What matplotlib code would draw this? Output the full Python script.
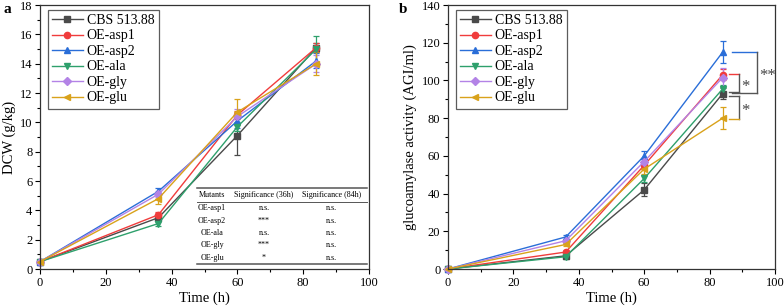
import matplotlib
matplotlib.use("Agg")
import matplotlib.pyplot as plt
from matplotlib.ticker import MultipleLocator
from matplotlib.lines import Line2D

plt.rcParams['font.family'] = ['Liberation Serif', 'DejaVu Serif']

time = [0, 36, 60, 84]
strains = ["CBS 513.88", "OE-asp1", "OE-asp2", "OE-ala", "OE-gly", "OE-glu"]
colors = ["#4a4a4a", "#f03c3c", "#2a6ed8", "#2ea06c", "#b383e6", "#d9a21b"]
markers = ["s", "o", "^", "v", "D", "<"]

dcw = {
    "CBS 513.88": [0.5, 3.5, 9.1, 15.1],
    "OE-asp1":    [0.5, 3.7, 10.5, 15.1],
    "OE-asp2":    [0.5, 5.3, 10.1, 14.2],
    "OE-ala":     [0.5, 3.1, 9.7, 15.0],
    "OE-gly":     [0.5, 5.1, 10.4, 14.0],
    "OE-glu":     [0.5, 4.8, 10.7, 14.0],
}
dcw_err = {
    "CBS 513.88": [0.1, 0.2, 1.3, 0.3],
    "OE-asp1":    [0.1, 0.2, 0.3, 0.3],
    "OE-asp2":    [0.1, 0.2, 0.5, 0.5],
    "OE-ala":     [0.1, 0.2, 0.3, 0.9],
    "OE-gly":     [0.1, 0.2, 0.5, 0.6],
    "OE-glu":     [0.1, 0.4, 0.9, 0.8],
}
ga = {
    "CBS 513.88": [0, 7, 42, 93],
    "OE-asp1":    [0, 9, 55, 103],
    "OE-asp2":    [0, 17, 60, 115],
    "OE-ala":     [0, 6.5, 48, 95.5],
    "OE-gly":     [0, 15, 57, 101.5],
    "OE-glu":     [0, 13, 53, 80],
}
ga_err = {
    "CBS 513.88": [0.5, 1, 3.5, 3],
    "OE-asp1":    [0.5, 1, 2, 3],
    "OE-asp2":    [0.5, 1, 2.5, 6],
    "OE-ala":     [0.5, 1, 2, 2],
    "OE-gly":     [0.5, 1, 2, 5],
    "OE-glu":     [0.5, 1, 2.5, 6],
}

table_rows = [["OE-asp1", "n.s.", "n.s."],
              ["OE-asp2", "***", "n.s."],
              ["OE-ala", "n.s.", "n.s."],
              ["OE-gly", "***", "n.s."],
              ["OE-glu", "*", "n.s."]]
table_header = ["Mutants", "Significance (36h)", "Significance (84h)"]

W, H = 784, 308
fig = plt.figure(figsize=(W/100, H/100), dpi=100)
axa = fig.add_axes([40/W, 1-269/H, 329/W, 264/H])
axb = fig.add_axes([448/W, 1-269/H, 327/W, 264/H])

def style(ax, ymax, ymaj, ymin):
    ax.set_xlim(0, 100)
    ax.set_ylim(0, ymax)
    ax.xaxis.set_major_locator(MultipleLocator(20))
    ax.xaxis.set_minor_locator(MultipleLocator(10))
    ax.yaxis.set_major_locator(MultipleLocator(ymaj))
    ax.yaxis.set_minor_locator(MultipleLocator(ymin))
    ax.tick_params(which='major', direction='out', length=3.5, width=0.8, labelsize=9, pad=2,
                   top=False, right=False)
    ax.tick_params(which='minor', direction='out', length=2, width=0.8, top=False, right=False)
    for s in ax.spines.values():
        s.set_linewidth(0.9)
        s.set_color('#333333')
    ax.set_xlabel("Time (h)", fontsize=10.5, labelpad=2)

for ax, data, err in [(axa, dcw, dcw_err), (axb, ga, ga_err)]:
    handles = []
    for s, c, m in zip(strains, colors, markers):
        ms = 4.5 if m != "D" else 4
        ax.errorbar(time, data[s], yerr=err[s], color=c, marker=m, markersize=ms,
                    lw=1.0, capsize=2.5, elinewidth=0.9, capthick=0.9, clip_on=False)
        handles.append(Line2D([], [], color=c, marker=m, markersize=ms, lw=1.0, label=s))
    leg = ax.legend(handles=handles, loc='upper left', fontsize=10, frameon=True, fancybox=False,
                    edgecolor='#333333', handlelength=2.2, handletextpad=0.3, labelspacing=0.18,
                    borderpad=0.3, borderaxespad=0.0, bbox_to_anchor=(0.024, 0.982))
    leg.get_frame().set_linewidth(0.9)

style(axa, 18, 2, 1)
style(axb, 140, 20, 10)
axa.set_ylabel("DCW (g/kg)", fontsize=10.5, labelpad=3)
axb.set_ylabel("glucoamylase activity (AGI/ml)", fontsize=10.5, labelpad=3)

fig.text(3/W, 1-3/H, "a", fontsize=11, fontweight='bold', va='top')
fig.text(399/W, 1-3/H, "b", fontsize=11, fontweight='bold', va='top')

# table in panel a (axes coordinates)
tx0, tx1 = 0.477, 0.993
ytop, yhd, ybot = 0.307, 0.254, 0.019
axa.plot([tx0, tx1], [ytop, ytop], transform=axa.transAxes, color='#555555', lw=1.1)
axa.plot([tx0, tx1], [yhd, yhd], transform=axa.transAxes, color='#555555', lw=0.7)
axa.plot([tx0, tx1], [ybot, ybot], transform=axa.transAxes, color='#555555', lw=1.1)
colx = [0.523, 0.681, 0.887]
yh = (ytop + yhd) / 2
for cx, t in zip(colx, table_header):
    axa.text(cx, yh, t, transform=axa.transAxes, ha='center', va='center', fontsize=5.8)
rh = (yhd - ybot) / len(table_rows)
for i, row in enumerate(table_rows):
    yy = yhd - rh * (i + 0.5)
    for cx, t in zip(colx, row):
        axa.text(cx, yy, t, transform=axa.transAxes, ha='center', va='center', fontsize=5.8)

# significance brackets in panel b (data coordinates)
def bracket(ax, x0, x1, ytop_, ybot_, ctop, cbot, label, lx, ly):
    ax.plot([x0, x1], [ytop_, ytop_], color=ctop, lw=1.0, clip_on=False)
    ax.plot([x1, x1], [ytop_, ybot_], color='#555555', lw=1.0, clip_on=False)
    ax.plot([x0, x1], [ybot_, ybot_], color=cbot, lw=1.0, clip_on=False)
    ax.text(lx, ly, label, fontsize=12, ha='left', va='center', color='#444444')

bracket(axb, 86.0, 88.9, 103.5, 94.0, colors[1], '#555555', "*", 89.8, 96.5)
bracket(axb, 87.0, 94.5, 115.2, 93.5, colors[2], '#555555', "**", 95.3, 102.5)
bracket(axb, 86.0, 88.9, 91.7, 79.5, '#555555', colors[5], "*", 89.8, 84.0)

fig.savefig("out.png", dpi=100)
